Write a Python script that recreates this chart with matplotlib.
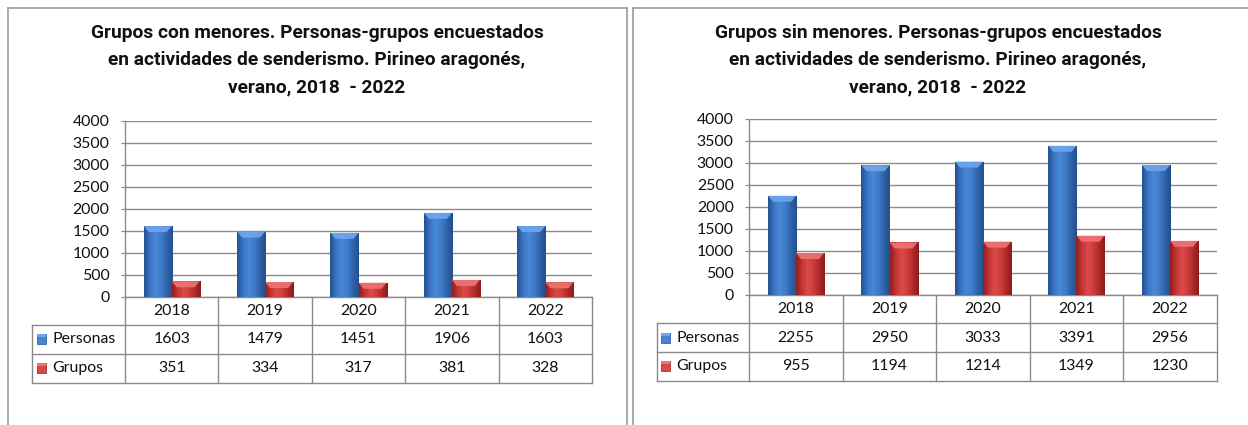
import matplotlib
matplotlib.use("Agg")
import matplotlib.pyplot as plt
import numpy as np
import matplotlib.transforms as mtrans
from matplotlib.lines import Line2D
from matplotlib.patches import Rectangle, Polygon
from matplotlib.colors import LinearSegmentedColormap

# ---------------- data ----------------
years = ["2018", "2019", "2020", "2021", "2022"]
series_names = ["Personas", "Grupos"]
con_personas = [1603, 1479, 1451, 1906, 1603]
con_grupos = [351, 334, 317, 381, 328]
sin_personas = [2255, 2950, 3033, 3391, 2956]
sin_grupos = [955, 1194, 1214, 1349, 1230]
yticks = [0, 500, 1000, 1500, 2000, 2500, 3000, 3500, 4000]
title_con = ["Grupos con menores. Personas-grupos encuestados",
             "en actividades de senderismo. Pirineo aragonés,",
             "verano, 2018  - 2022"]
title_sin = ["Grupos sin menores. Personas-grupos encuestados",
             "en actividades de senderismo. Pirineo aragonés,",
             "verano, 2018  - 2022"]

plt.rcParams['font.family'] = ['Lato', 'DejaVu Sans']

W, H = 1248, 425
fig = plt.figure(figsize=(W / 100, H / 100), dpi=100)
fig.patch.set_facecolor("white")

def fx(x):
    return x / W

def fy(y):
    return 1 - y / H

border_col = "#a3a3a3"
line_col = "#8a8a8a"
txt_col = "#111111"
FS = 11.4

# panel borders
for (x0, x1) in [(8, 627), (633, 1260)]:
    fig.add_artist(Line2D([fx(x0), fx(x1)], [fy(8), fy(8)], color=border_col, lw=1.3))
    fig.add_artist(Line2D([fx(x0), fx(x0)], [fy(8), fy(430)], color=border_col, lw=1.3))
    if x1 < W:
        fig.add_artist(Line2D([fx(x1), fx(x1)], [fy(8), fy(430)], color=border_col, lw=1.3))

blue_cmap = LinearSegmentedColormap.from_list(
    "b", ["#24508f", "#3a74c4", "#4a88d8", "#3f7cc9", "#2f62a8", "#23508c"])
red_cmap = LinearSegmentedColormap.from_list(
    "r", ["#8f1f1f", "#c23434", "#dc4a4a", "#cf3d3d", "#b02a2a", "#8a1c1c"])
blue_top = "#6ea6ee"
red_top = "#ee7474"

grad = np.linspace(0, 1, 64).reshape(1, -1)


def panel(ax_left, ax_top, ax_w, ax_h, personas, grupos, title_lines, title_cx):
    ax = fig.add_axes([fx(ax_left), fy(ax_top + ax_h), ax_w / W, ax_h / H])
    ax.set_xlim(-0.5, 4.5)
    ax.set_ylim(0, 4000)
    ax.set_yticks(yticks)
    ax.set_yticklabels([str(v) for v in yticks], fontsize=FS, color=txt_col)
    ax.set_xticks([])
    ax.tick_params(axis="y", length=3.2, width=0.8, color=line_col, pad=8)
    for s in ["top", "right"]:
        ax.spines[s].set_visible(False)
    for s in ["left", "bottom"]:
        ax.spines[s].set_color(line_col)
        ax.spines[s].set_linewidth(1.0)
    ax.yaxis.grid(True, color=line_col, lw=1.0)
    ax.set_axisbelow(True)

    x = np.arange(len(years))
    bw = 0.3
    px_x = 1.0 / (ax_w / 5.0)          # data units per pixel (x)
    px_y = 4000.0 / ax_h               # data units per pixel (y)
    for vals, off, cmap, topc in [(personas, -bw / 2, blue_cmap, blue_top),
                                  (grupos, bw / 2, red_cmap, red_top)]:
        bars = ax.bar(x + off, vals, width=bw, color="none", edgecolor="none", zorder=3)
        for b in bars:
            x0, w, h = b.get_x(), b.get_width(), b.get_height()
            im = ax.imshow(grad, extent=[x0, x0 + w, 0, h], aspect="auto",
                           cmap=cmap, zorder=3, interpolation="bicubic")
            im.set_clip_path(b)
            dx, dy = 5 * px_x, 6 * px_y
            ax.add_patch(Polygon([(x0, h), (x0 + w, h), (x0 + w - dx, h - dy),
                                  (x0 + dx, h - dy)], closed=True,
                                 facecolor=topc, edgecolor="none", zorder=4, alpha=0.9))
    ax.set_xlim(-0.5, 4.5)
    ax.set_ylim(0, 4000)

    # table
    tr = mtrans.blended_transform_factory(ax.transData, fig.transFigure)
    bottom = ax_top + ax_h
    rows = [bottom, bottom + 28.4, bottom + 56.8, bottom + 85.8]
    unit = 1.0 / (ax_w / 5.0)
    lab_left = -0.5 - 92.7 * unit
    def hline(x0, x1, y):
        fig.add_artist(Line2D([x0, x1], [fy(y), fy(y)], transform=tr, color=line_col, lw=1.0))
    def vline(xx, y0, y1):
        fig.add_artist(Line2D([xx, xx], [fy(y0), fy(y1)], transform=tr, color=line_col, lw=1.0))
    for y in rows[1:]:
        hline(lab_left, 4.5, y)
    vline(lab_left, rows[1], rows[3])
    for b in np.arange(-0.5, 5.0, 1.0):
        vline(b, rows[0], rows[3])
    for i, yr in enumerate(years):
        fig.text(i, fy((rows[0] + rows[1]) / 2), yr, transform=tr, ha="center",
                 va="center", fontsize=FS, color=txt_col)
        fig.text(i, fy((rows[1] + rows[2]) / 2), str(personas[i]), transform=tr,
                 ha="center", va="center", fontsize=FS, color=txt_col)
        fig.text(i, fy((rows[2] + rows[3]) / 2), str(grupos[i]), transform=tr,
                 ha="center", va="center", fontsize=FS, color=txt_col)
    for r, (name, cmap) in enumerate(zip(series_names, [blue_cmap, red_cmap])):
        ymid = (rows[r + 1] + rows[r + 2]) / 2
        fig.add_artist(Rectangle((lab_left + 4.5 * unit, fy(ymid + 5)), 9 * unit, 10 / H,
                                 transform=tr, facecolor=cmap(0.45), edgecolor=cmap(0.0),
                                 lw=0.5))
        fig.add_artist(Rectangle((lab_left + 4.5 * unit, fy(ymid - 2)), 9 * unit, 3 / H,
                                 transform=tr, facecolor=[blue_top, red_top][r],
                                 edgecolor="none"))
        fig.text(lab_left + 20 * unit, fy(ymid), name, transform=tr, ha="left",
                 va="center", fontsize=FS, color=txt_col)

    # title
    for ln, yy in zip(title_lines, [33, 60, 87]):
        fig.text(fx(title_cx), fy(yy), ln, ha="center", va="center",
                 fontsize=13.8, fontweight="bold", color=txt_col,
                 family=["Roboto", "DejaVu Sans"])
    return ax


panel(125, 120.7, 467, 176, con_personas, con_grupos, title_con, 317)
panel(749.3, 119, 467.4, 176, sin_personas, sin_grupos, title_sin, 938)

fig.savefig("out.png", dpi=100)
